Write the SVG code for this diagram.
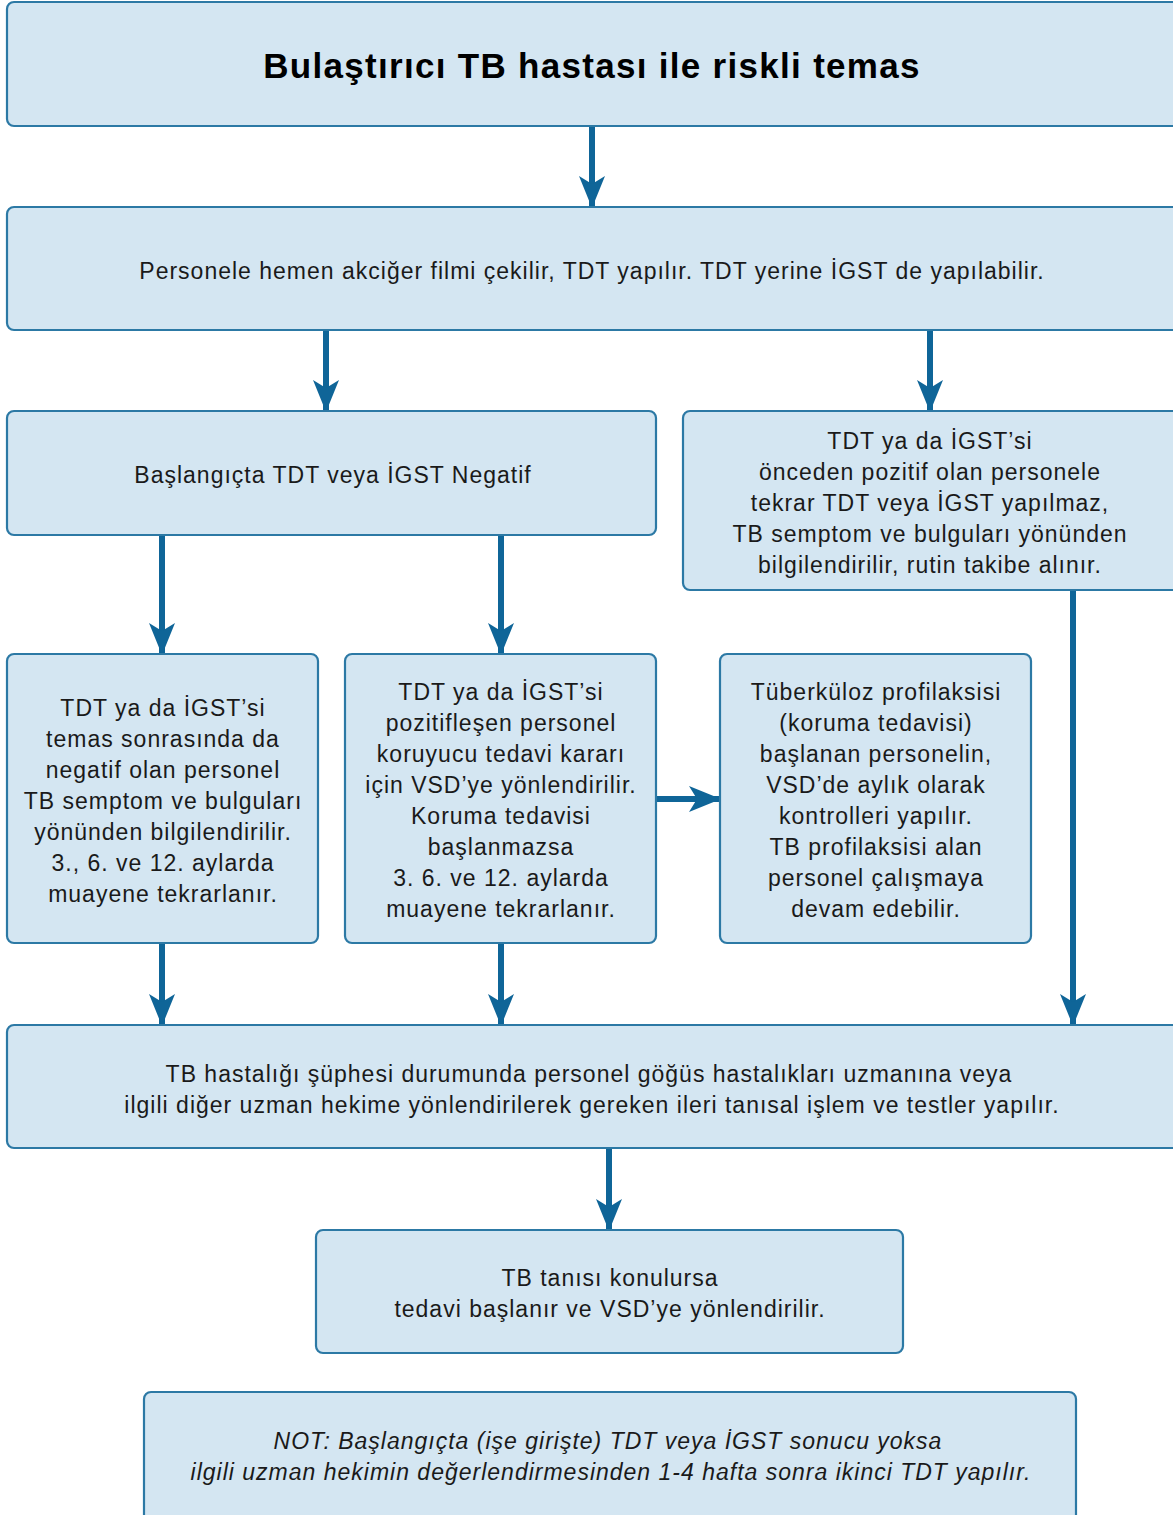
<svg xmlns="http://www.w3.org/2000/svg" width="1173" height="1515" viewBox="0 0 1173 1515">
<style>
.box{fill:#D4E6F2;stroke:#2C79A5;stroke-width:2.2}
.t{font-family:"Liberation Sans",Arial,sans-serif;font-size:23px;letter-spacing:1px;fill:#1a1a1a;text-anchor:middle}
.title{font-family:"Liberation Sans",Arial,sans-serif;font-size:35px;letter-spacing:1.3px;font-weight:bold;fill:#000;text-anchor:middle}
.it{font-style:italic}
.c{stroke:#0F6598;stroke-width:6;fill:none;marker-end:url(#ah)}
</style>
<defs>
<marker id="ah" viewBox="0 0 32 26" refX="31" refY="13" markerWidth="32" markerHeight="26" markerUnits="userSpaceOnUse" orient="auto">
<path d="M0,0 L32,13 L0,26 L8,13 Z" fill="#0F6598"/>
</marker>
</defs>
<rect width="1173" height="1515" fill="#fff"/>
<g id="connectors">
<line class="c" x1="592" y1="127" x2="592" y2="207"/>
<line class="c" x1="326" y1="331" x2="326" y2="411"/>
<line class="c" x1="930" y1="331" x2="930" y2="411"/>
<line class="c" x1="162" y1="536" x2="162" y2="654"/>
<line class="c" x1="501" y1="536" x2="501" y2="654"/>
<line class="c" x1="657" y1="799" x2="720" y2="799"/>
<line class="c" x1="162" y1="944" x2="162" y2="1025"/>
<line class="c" x1="501" y1="944" x2="501" y2="1025"/>
<line class="c" x1="1073" y1="591" x2="1073" y2="1025"/>
<line class="c" x1="609" y1="1149" x2="609" y2="1230"/>
</g>
<g id="n1">
<rect class="box" x="7" y="2" width="1180" height="124" rx="7"/>
<text class="title" x="592" y="78">Bulaştırıcı TB hastası ile riskli temas</text>
</g>
<g id="n2">
<rect class="box" x="7" y="207" width="1180" height="123" rx="7"/>
<text class="t" x="592" y="279">Personele hemen akciğer filmi çekilir, TDT yapılır. TDT yerine İGST de yapılabilir.</text>
</g>
<g id="n3">
<rect class="box" x="7" y="411" width="649" height="124" rx="7"/>
<text class="t" x="333" y="483">Başlangıçta TDT veya İGST Negatif</text>
</g>
<g id="n4">
<rect class="box" x="683" y="411" width="504" height="179" rx="7"/>
<text class="t" x="930" y="449">TDT ya da İGST’si</text>
<text class="t" x="930" y="480">önceden pozitif olan personele</text>
<text class="t" x="930" y="511">tekrar TDT veya İGST yapılmaz,</text>
<text class="t" x="930" y="542">TB semptom ve bulguları yönünden</text>
<text class="t" x="930" y="573">bilgilendirilir, rutin takibe alınır.</text>
</g>
<g id="n5">
<rect class="box" x="7" y="654" width="311" height="289" rx="7"/>
<text class="t" x="163" y="716">TDT ya da İGST’si</text>
<text class="t" x="163" y="747">temas sonrasında da</text>
<text class="t" x="163" y="778">negatif olan personel</text>
<text class="t" x="163" y="809">TB semptom ve bulguları</text>
<text class="t" x="163" y="840">yönünden bilgilendirilir.</text>
<text class="t" x="163" y="871">3., 6. ve 12. aylarda</text>
<text class="t" x="163" y="902">muayene tekrarlanır.</text>
</g>
<g id="n6">
<rect class="box" x="345" y="654" width="311" height="289" rx="7"/>
<text class="t" x="501" y="700">TDT ya da İGST’si</text>
<text class="t" x="501" y="731">pozitifleşen personel</text>
<text class="t" x="501" y="762">koruyucu tedavi kararı</text>
<text class="t" x="501" y="793">için VSD’ye yönlendirilir.</text>
<text class="t" x="501" y="824">Koruma tedavisi</text>
<text class="t" x="501" y="855">başlanmazsa</text>
<text class="t" x="501" y="886">3. 6. ve 12. aylarda</text>
<text class="t" x="501" y="917">muayene tekrarlanır.</text>
</g>
<g id="n7">
<rect class="box" x="720" y="654" width="311" height="289" rx="7"/>
<text class="t" x="876" y="700">Tüberküloz profilaksisi</text>
<text class="t" x="876" y="731">(koruma tedavisi)</text>
<text class="t" x="876" y="762">başlanan personelin,</text>
<text class="t" x="876" y="793">VSD’de aylık olarak</text>
<text class="t" x="876" y="824">kontrolleri yapılır.</text>
<text class="t" x="876" y="855">TB profilaksisi alan</text>
<text class="t" x="876" y="886">personel çalışmaya</text>
<text class="t" x="876" y="917">devam edebilir.</text>
</g>
<g id="n8">
<rect class="box" x="7" y="1025" width="1180" height="123" rx="7"/>
<text class="t" x="589" y="1082">TB hastalığı şüphesi durumunda personel göğüs hastalıkları uzmanına veya</text>
<text class="t" x="592" y="1113">ilgili diğer uzman hekime yönlendirilerek gereken ileri tanısal işlem ve testler yapılır.</text>
</g>
<g id="n9">
<rect class="box" x="316" y="1230" width="587" height="123" rx="7"/>
<text class="t" x="610" y="1286">TB tanısı konulursa</text>
<text class="t" x="610" y="1317">tedavi başlanır ve VSD’ye yönlendirilir.</text>
</g>
<g id="n10">
<rect class="box" x="144" y="1392" width="932" height="130" rx="7"/>
<text class="t it" x="608" y="1449">NOT: Başlangıçta (işe girişte) TDT veya İGST sonucu yoksa</text>
<text class="t it" x="611" y="1480">ilgili uzman hekimin değerlendirmesinden 1-4 hafta sonra ikinci TDT yapılır.</text>
</g>
</svg>
